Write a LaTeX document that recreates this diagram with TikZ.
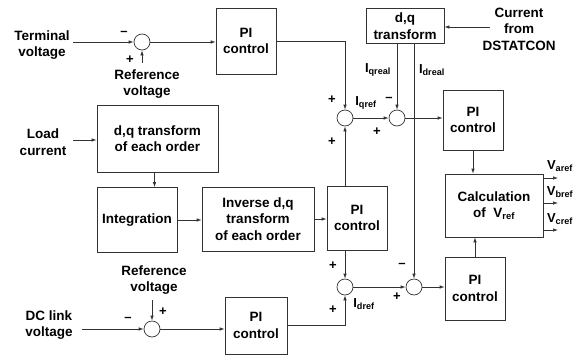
\documentclass[tikz,border=0pt]{standalone}
\usepackage{fontspec}
\setmainfont{Liberation Sans}
\usetikzlibrary{arrows.meta}
\begin{document}
\begin{tikzpicture}[x=1pt,y=-1pt,
  every node/.style={font=\fontsize{13.5}{16.5}\selectfont\bfseries, text=black},
  blk/.style={draw=black!80, line width=0.7pt, align=center, inner sep=0pt},
  sumc/.style={draw=black!80, circle, line width=0.7pt, minimum size=16pt, inner sep=0pt},
  ln/.style={draw=black!80, line width=0.7pt},
  arr/.style={ln, -{Latex[length=5pt,width=3.5pt]}},
  txt/.style={align=center, inner sep=0pt},
  sgn/.style={inner sep=0pt, font=\fontsize{13}{13}\selectfont\bfseries},
  sub/.style={inner sep=0pt, font=\fontsize{13}{13}\selectfont\bfseries}
]
\useasboundingbox (0,0) rectangle (588,359);

% blocks
\node[blk, minimum width=60pt, minimum height=66pt] (pi1) at (246,41) {PI\\control};
\node[blk, minimum width=121pt, minimum height=67pt] (dql) at (157.5,138.5) {d,q transform\\of each order};
\node[blk, minimum width=80pt, minimum height=65pt] (int) at (137,220) {Integration};
\node[blk, minimum width=112pt, minimum height=64pt] (inv) at (258,219) {Inverse d,q\\transform\\of each order};
\node[blk, minimum width=60pt, minimum height=64pt] (pi2) at (357,218) {PI\\control};
\node[blk, minimum width=62pt, minimum height=57pt] (pi3) at (256,325.5) {PI\\control};
\node[blk, minimum width=78pt, minimum height=35pt] (dqt) at (405,26) {d,q\\transform};
\node[blk, minimum width=60pt, minimum height=60pt] (pi4) at (473,120) {PI\\control};
\node[blk, minimum width=98pt, minimum height=63pt] (calc) at (494,205.5) {Calculation\\of~~V\textsubscript{ref}};
\node[blk, minimum width=60pt, minimum height=63pt] (pi5) at (475,288.5) {PI\\control};

% summing junctions
\node[sumc] (s1) at (142,42) {};
\node[sumc] (s2) at (152,329) {};
\node[sumc] (s6) at (345,118) {};
\node[sumc] (s5) at (397,118) {};
\node[sumc] (s3) at (345,287) {};
\node[sumc] (s4) at (414,287) {};

% text labels
\node[txt] (tv) at (42,45) {Terminal\\voltage};
\node[txt] (rv1) at (147,84) {Reference\\voltage};
\node[txt] (lc) at (43,142) {Load\\current};
\node[txt] (rv2) at (154,280) {Reference\\voltage};
\node[txt] (dc) at (49,325) {DC link\\voltage};
\node[txt] (cur) at (519,29) {Current\\from\\DSTATCON};

% signs
\node[sgn] (m1) at (124,33) {–};
\node[sgn] (p1) at (130,60) {+};
\node[sgn] (m2) at (128,319) {–};
\node[sgn] (p2) at (163,312) {+};
\node[sgn] (p6a) at (332,100) {+};
\node[sgn] (p6b) at (332,142) {+};
\node[sgn] (m5) at (389,99) {–};
\node[sgn] (p5) at (377,132) {+};
\node[sgn] (p3a) at (333,266) {+};
\node[sgn] (p3b) at (333,310) {+};
\node[sgn] (m4) at (402,265) {–};
\node[sgn] (p4) at (397,297) {+};

% signal labels
\node[sub] (iqref) at (366,103) {I\textsubscript{qref}};
\node[sub] (idref) at (364,304) {I\textsubscript{dref}};
\node[sub] (iqreal) at (378,70) {I\textsubscript{qreal}};
\node[sub] (idreal) at (432,70) {I\textsubscript{dreal}};
\node[sub] (va) at (560,166) {V\textsubscript{aref}};
\node[sub] (vb) at (560,192) {V\textsubscript{bref}};
\node[sub] (vc) at (560,219) {V\textsubscript{cref}};

% free ends
\coordinate (a1) at (73,42);
\coordinate (a2) at (142,63);
\coordinate (a3) at (73,140);
\coordinate (a4) at (82,329);
\coordinate (a5) at (152,300);
\coordinate (a6) at (490,27);
\coordinate (o1) at (558,178);
\coordinate (o2) at (558,203);
\coordinate (o3) at (558,230);

% connectors
\draw[arr] (a1) -- (s1);
\draw[arr] (a2) -- (s1);
\draw[arr] (s1) -- (pi1.west |- s1);
\draw[arr] (pi1.east) -| (s6.north);
\draw[arr] (a3) -- (dql.west |- a3);
\draw[arr] ([xshift=-3pt]dql.south) -- ([xshift=-3pt]dql.south |- int.north);
\draw[arr] (int.east) -- (inv.west |- int.east);
\draw[arr] (inv.east) -- (pi2.west |- inv.east);
\draw[arr] (s6 |- pi2.north) -- (s6);
\draw[arr] (s6 |- pi2.south) -- (s3);
\draw[arr] (pi3.east) -| (s3.south);
\draw[arr] (a4) -- (s2);
\draw[arr] (a5) -- (s2);
\draw[arr] (s2) -- (pi3.west |- s2);
\draw[arr] (s6) -- (s5);
\draw[arr] (s5 |- dqt.south) -- (s5);
\draw[arr] (s4 |- dqt.south) -- (s4);
\draw[arr] (s5) -- (pi4.west |- s5);
\draw[arr] (pi4.south) -- (pi4.south |- calc.north);
\draw[arr] (pi5.north) -- (pi5.north |- calc.south);
\draw[arr] (s3) -- (s4);
\draw[arr] (s4) -- (pi5.west |- s4);
\draw[arr] (a6) -- (dqt.east |- a6);
\draw[arr] (calc.east |- o1) -- (o1);
\draw[arr] (calc.east |- o2) -- (o2);
\draw[arr] (calc.east |- o3) -- (o3);
\end{tikzpicture}
\end{document}
